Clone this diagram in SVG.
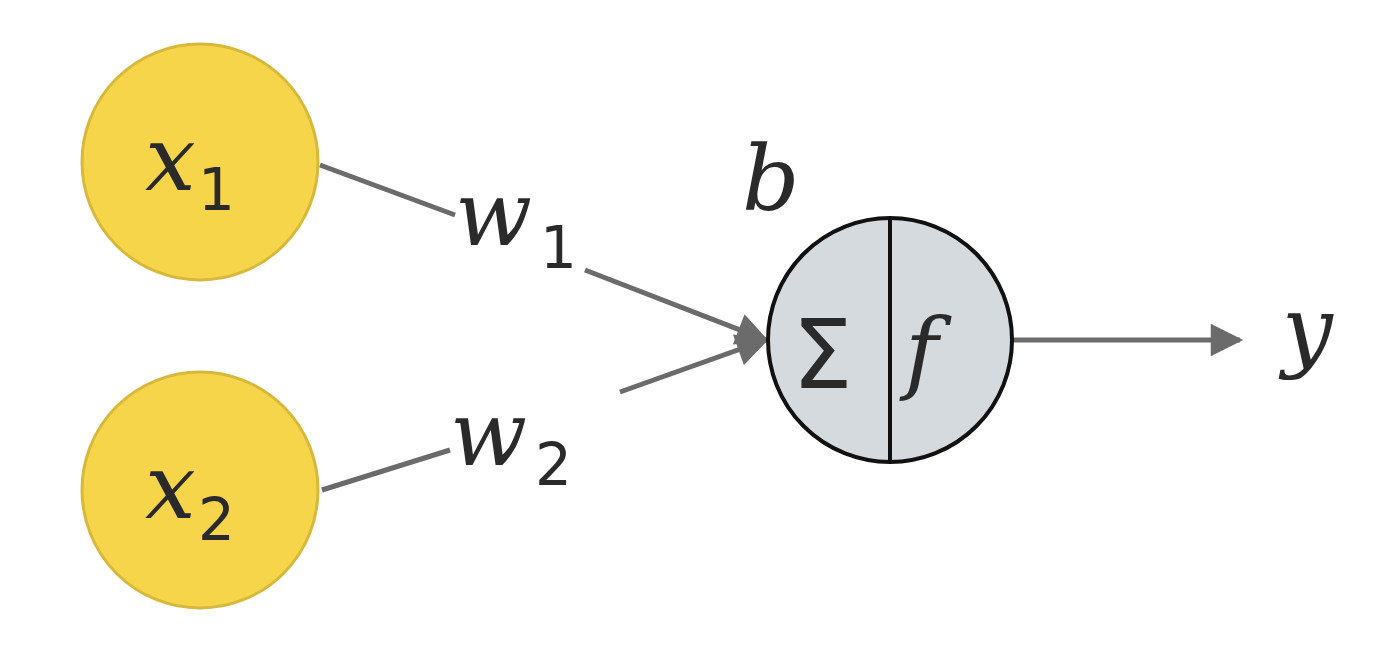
<svg xmlns="http://www.w3.org/2000/svg" width="1389" height="649" viewBox="0 0 1389 649">
<style>
.in{fill:#f7d54a;stroke:#d8b83a;stroke-width:3}
.c{stroke:#6b6b6b;stroke-width:5;fill:none}
.t{font-family:"DejaVu Serif","Liberation Serif",serif;font-style:italic;fill:#2a2a2a}
.s{font-family:"DejaVu Sans","Liberation Sans",sans-serif;fill:#2a2a2a}
</style>
<defs><marker id="b" viewBox="0 0 10 10" refX="9" refY="5" markerWidth="7" markerHeight="6.5" orient="auto"><path d="M0,0L10,5L0,10z" fill="#6b6b6b"/></marker></defs>
<g id="connectors">
<path class="c" d="M320,165L455,215"/>
<path class="c" d="M585,270L766,340" marker-end="url(#b)"/>
<path class="c" d="M322,490L450,450"/>
<path class="c" d="M620,392L766,340" marker-end="url(#b)"/>
<path class="c" d="M1013,340L1240,340" marker-end="url(#b)"/>
<text class="t" x="455" y="245" font-size="90">w</text><text class="s" x="540" y="268" font-size="58">1</text>
<text class="t" x="450" y="465" font-size="90">w</text><text class="s" x="535" y="485" font-size="58">2</text>
</g>
<g id="x1"><circle class="in" cx="200" cy="162" r="118"/><text class="t" x="145" y="190" font-size="90">x</text><text class="s" x="198" y="210" font-size="58">1</text></g>
<g id="x2"><circle class="in" cx="200" cy="490" r="118"/><text class="t" x="145" y="518" font-size="90">x</text><text class="s" x="198" y="540" font-size="58">2</text></g>
<g id="neuron"><circle cx="890" cy="340" r="122" fill="#d5dadf" stroke="#111" stroke-width="4"/><line x1="890" y1="218" x2="890" y2="462" stroke="#111" stroke-width="4"/>
<text class="s" x="792" y="388" font-size="96">Σ</text><text class="t" x="905" y="382" font-size="90">f</text></g>
<g id="b"><text class="t" x="742" y="210" font-size="90">b</text></g>
<g id="y"><text class="t" x="1282" y="360" font-size="90">y</text></g>
</svg>
